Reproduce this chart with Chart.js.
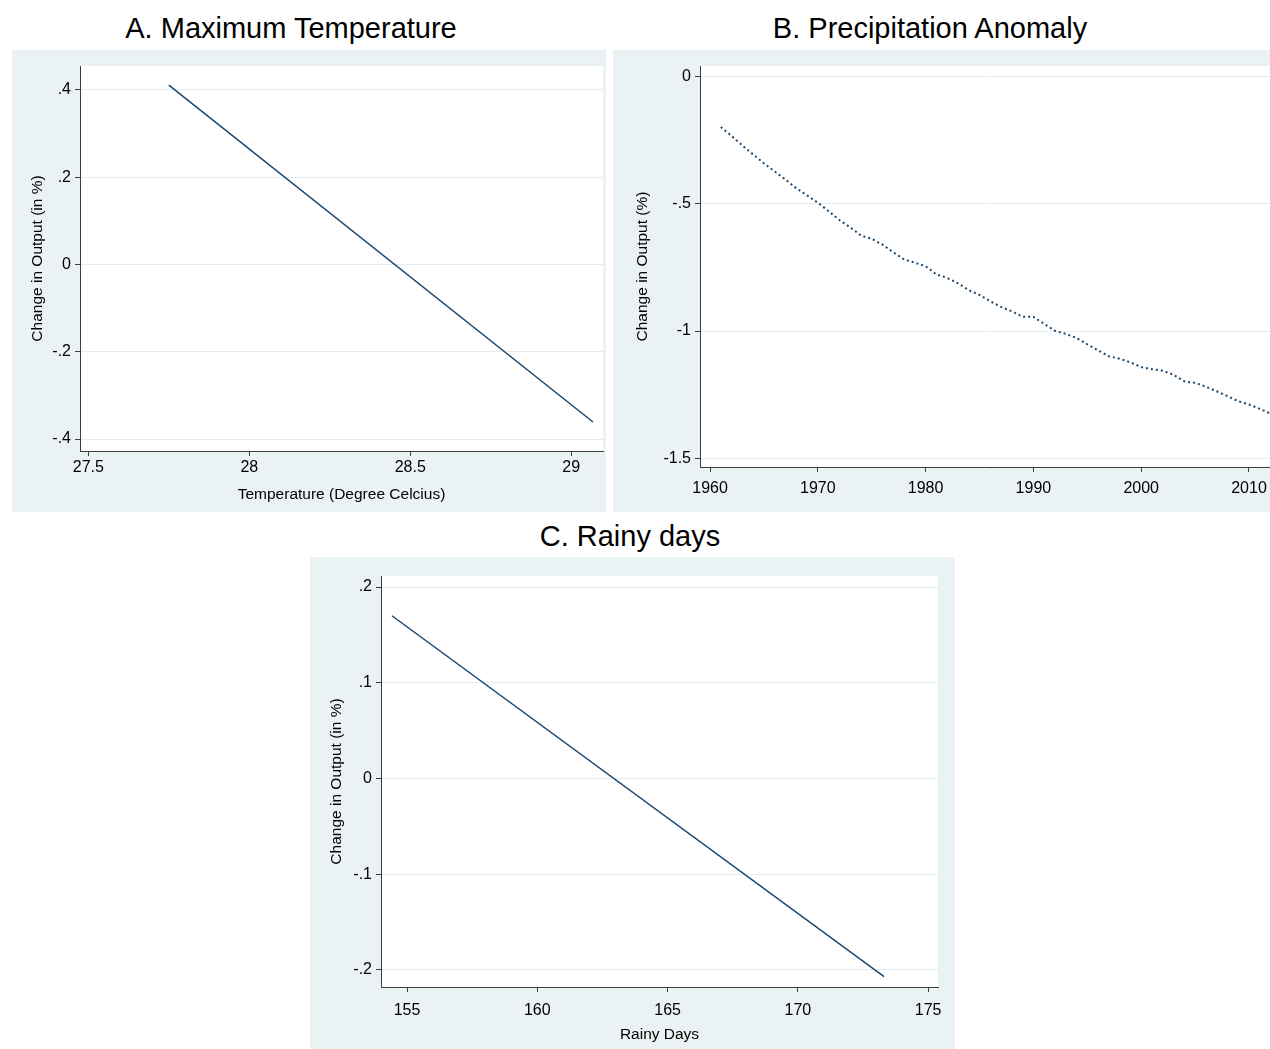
<!DOCTYPE html>
<html>
<head>
<meta charset="utf-8">
<script src="https://cdn.jsdelivr.net/npm/chart.js@4.4.1/dist/chart.umd.min.js"></script>
<style>
body { margin: 0; background: #fff; font-family: "Liberation Sans", Arial, sans-serif; }
#page { position: relative; width: 1270px; height: 1049px; overflow: hidden; }
.title { position: absolute; width: 500px; font-size: 29px; line-height: 30px; color: #000; text-align: center; white-space: nowrap; }
.panel { position: absolute; background: #eaf2f3; }
.panel canvas { display: block; }
</style>
</head>
<body>
<div id="page">
  <div class="title" style="left:41px;top:13px">A. Maximum Temperature</div>
  <div class="title" style="left:680px;top:13px">B. Precipitation Anomaly</div>
  <div class="title" style="left:380px;top:521px">C. Rainy days</div>
  <div class="panel" style="left:12px;top:50px;width:594px;height:462px"><canvas id="chartA" width="594" height="462"></canvas></div>
  <div class="panel" style="left:613px;top:50px;width:657px;height:462px"><canvas id="chartB" width="657" height="462"></canvas></div>
  <div class="panel" style="left:310px;top:557px;width:645px;height:492px"><canvas id="chartC" width="645" height="492"></canvas></div>
</div>
<script>
// A. maximum temperature
const tempX = [27.75, 29.068];
const tempY = [0.411, -0.361];
const tempXTicks = [27.5, 28, 28.5, 29];
const tempYTicks = [-0.4, -0.2, 0, 0.2, 0.4];

// B. precipitation anomaly, yearly
const years = [1961, 1962, 1963, 1964, 1965, 1966, 1967, 1968, 1969, 1970,
  1971, 1972, 1973, 1974, 1975, 1976, 1977, 1978, 1979, 1980,
  1981, 1982, 1983, 1984, 1985, 1986, 1987, 1988, 1989, 1990,
  1991, 1992, 1993, 1994, 1995, 1996, 1997, 1998, 1999, 2000,
  2001, 2002, 2003, 2004, 2005, 2006, 2007, 2008, 2009, 2010,
  2011, 2012];
const precip = [-0.197, -0.232, -0.270, -0.305, -0.340, -0.372, -0.404, -0.438, -0.466, -0.495,
  -0.528, -0.563, -0.592, -0.624, -0.637, -0.660, -0.690, -0.718, -0.731, -0.745,
  -0.777, -0.791, -0.812, -0.839, -0.858, -0.883, -0.905, -0.922, -0.944, -0.944,
  -0.972, -0.999, -1.011, -1.027, -1.052, -1.076, -1.099, -1.109, -1.123, -1.142,
  -1.150, -1.156, -1.172, -1.198, -1.204, -1.219, -1.237, -1.256, -1.276, -1.289,
  -1.306, -1.325];
const yearTicks = [1960, 1970, 1980, 1990, 2000, 2010];
const precipYTicks = [-1.5, -1, -0.5, 0];

// C. rainy days
const rainX = [154.42, 173.31];
const rainY = [0.170, -0.207];
const rainXTicks = [155, 160, 165, 170, 175];
const rainYTicks = [-0.2, -0.1, 0, 0.1, 0.2];

const navy = "rgb(26,71,111)";
const axisCol = "#3c3c3c";
const gridCol = "#e3ecef";
const fontFam = "'Liberation Sans', Arial, sans-serif";

// stata style labels: .4, -.5, 0
function fmt(v) {
  return String(v).replace(/^(-?)0\./, "$1.");
}

const plotBg = {
  id: "plotBg",
  beforeDraw(chart) {
    const a = chart.chartArea;
    const ctx = chart.ctx;
    ctx.save();
    ctx.fillStyle = "#fff";
    ctx.fillRect(a.left, a.top, a.right - a.left, a.bottom - a.top);
    ctx.restore();
  }
};

function makeChart(id, o) {
  const pts = o.x.map((x, i) => ({ x: x, y: o.y[i] }));
  return new Chart(document.getElementById(id), {
    type: "scatter",
    data: {
      datasets: [{
        data: pts,
        showLine: true,
        borderColor: navy,
        borderWidth: o.lw,
        borderDash: o.dash,
        borderCapStyle: "butt",
        pointRadius: 0,
        fill: false
      }]
    },
    options: {
      responsive: false,
      animation: false,
      layout: { padding: o.pad },
      plugins: { legend: { display: false }, tooltip: { enabled: false } },
      scales: {
        x: {
          type: "linear",
          min: o.xMin,
          max: o.xMax,
          afterBuildTicks: s => { s.ticks = o.xTicks.map(v => ({ value: v })); },
          afterFit: s => { s.height = o.xh; s.paddingLeft = 0; s.paddingRight = 0; },
          ticks: { color: "#000", font: { family: fontFam, size: 16 }, padding: o.xlp, maxRotation: 0, autoSkip: false, callback: v => fmt(v) },
          grid: { drawOnChartArea: false, tickLength: 5, tickColor: axisCol },
          border: { color: axisCol, width: 1 },
          title: { display: !!o.xTitle, text: o.xTitle, color: "#000", font: { family: fontFam, size: 15.5 }, padding: { top: 0, bottom: o.xtp } }
        },
        y: {
          type: "linear",
          min: o.yMin,
          max: o.yMax,
          afterBuildTicks: s => { s.ticks = o.yTicks.map(v => ({ value: v })); },
          afterFit: s => { s.width = o.yw; s.paddingTop = 0; s.paddingBottom = 0; },
          ticks: { color: "#000", font: { family: fontFam, size: 16 }, padding: 4, autoSkip: false, callback: v => fmt(v) },
          grid: { color: gridCol, lineWidth: 1, tickLength: 5, tickColor: axisCol },
          border: { color: axisCol, width: 1 },
          title: { display: true, text: o.yTitle, color: "#000", font: { family: fontFam, size: 15.5 }, padding: { top: o.ytp, bottom: 0 } }
        }
      }
    },
    plugins: [plotBg]
  });
}

makeChart("chartA", {
  x: tempX, y: tempY, xTicks: tempXTicks, yTicks: tempYTicks,
  xMin: 27.474, xMax: 29.099, yMin: -0.4275, yMax: 0.455,
  pad: { left: 0, top: 16, right: 3, bottom: 0 }, xh: 61, yw: 68,
  lw: 1.5, dash: [], xlp: 2,
  xTitle: "Temperature (Degree Celcius)", xtp: 8,
  yTitle: "Change in Output (in %)", ytp: 16
});

makeChart("chartB", {
  x: years, y: precip, xTicks: yearTicks, yTicks: precipYTicks,
  xMin: 1959.07, xMax: 2011.95, yMin: -1.535, yMax: 0.043,
  pad: { left: 0, top: 16, right: 0, bottom: 0 }, xh: 45, yw: 87,
  lw: 2, dash: [2, 3], xlp: 7,
  xTitle: "", xtp: 0,
  yTitle: "Change in Output (%)", ytp: 20
});

makeChart("chartC", {
  x: rainX, y: rainY, xTicks: rainXTicks, yTicks: rainYTicks,
  xMin: 154.0, xMax: 175.38, yMin: -0.2178, yMax: 0.2115,
  pad: { left: 0, top: 19, right: 17, bottom: 0 }, xh: 62, yw: 71,
  lw: 1.5, dash: [], xlp: 9,
  xTitle: "Rainy Days", xtp: 5,
  yTitle: "Change in Output (in %)", ytp: 17
});
</script>
</body>
</html>
